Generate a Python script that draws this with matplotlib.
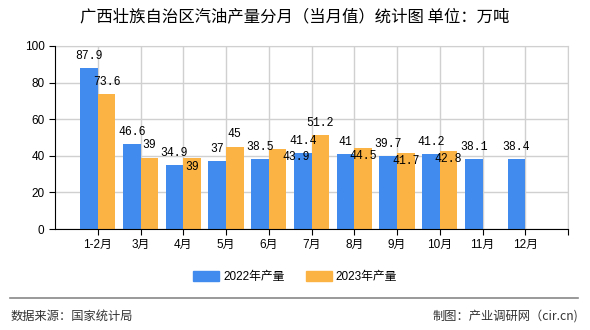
import numpy as np
import matplotlib
matplotlib.use('Agg')
import matplotlib.pyplot as plt
from matplotlib.patches import Patch

plt.rcParams['font.family'] = ['Liberation Sans', 'Noto Sans CJK SC', 'DejaVu Sans']

# data
months = ['1-2月', '3月', '4月', '5月', '6月', '7月', '8月', '9月', '10月', '11月', '12月']
prod_2022 = [87.9, 46.6, 34.9, 37, 38.5, 41.4, 41, 39.7, 41.2, 38.1, 38.4]
prod_2023 = [73.6, 39, 39, 45, 43.9, 51.2, 44.5, 41.7, 42.8]
yticks = [0, 20, 40, 60, 80, 100]

# label nudges (pixels), the 2023 labels got shuffled around in the original
dy_2023 = [12, 13, -9, 13, -8, 12, -8, -8, -8]
dx_2023 = [0, 0, 0, 0, 19, 0, 0, 0, 0]

blue = '#418BEE'
orange = '#FBB343'

fig = plt.figure(figsize=(5.9, 3.3), dpi=100)
ax = fig.add_axes([55/590, 1-229/330, 513/590, 183/330])

x = np.arange(len(months))
w = 0.41
ax.bar(x[:len(prod_2022)], prod_2022, width=-w, align='edge', color=blue, zorder=3)
ax.bar(x[:len(prod_2023)], prod_2023, width=w, align='edge', color=orange, zorder=3)

lab_font = dict(family=['Liberation Mono', 'DejaVu Sans Mono'], fontsize=8.3, color='black')
for i, v in enumerate(prod_2022):
    ax.annotate('%g' % v, (x[i] - w/2, v), xytext=(0, 12), textcoords='offset pixels',
                ha='center', va='center', zorder=5, **lab_font)
for i, v in enumerate(prod_2023):
    ax.annotate('%g' % v, (x[i] + w/2, v), xytext=(dx_2023[i], dy_2023[i]), textcoords='offset pixels',
                ha='center', va='center', zorder=5, **lab_font)

ax.set_xlim(-1, 11)
ax.set_ylim(0, 100)
ax.set_yticks(yticks)
ax.set_xticks(list(x) + [11])
ax.set_xticklabels(months + [''], fontsize=8.5)
ax.tick_params(axis='y', labelsize=8.5, length=4, color='black')
ax.tick_params(axis='x', length=4, color='black')
ax.grid(True, color='#D0D0D0', linewidth=1, zorder=0)
for s in ['top', 'right']:
    ax.spines[s].set_color('#D0D0D0')
for s in ['left', 'bottom']:
    ax.spines[s].set_color('black')
    ax.spines[s].set_zorder(4)

fig.text(0.5, 1-17/330, '广西壮族自治区汽油产量分月（当月值）统计图 单位：万吨',
         ha='center', va='center', fontsize=11.8, family=['Noto Sans CJK SC', 'DejaVu Sans'])

handles = [Patch(color=blue, label='2022年产量'), Patch(color=orange, label='2023年产量')]
fig.legend(handles=handles, loc='center', bbox_to_anchor=(0.5, 1-277/330), ncol=2, frameon=False,
           fontsize=8.5, handlelength=2.2, handleheight=0.9, columnspacing=1.8, handletextpad=0.3)

fig.add_artist(plt.Line2D([10/590, 578/590], [1-298/330, 1-298/330], color='#888888', linewidth=1.2))
fig.text(11/590, 1-316/330, '数据来源：国家统计局', ha='left', va='center', fontsize=8.8, color='#333333',
         family=['Noto Sans CJK SC', 'DejaVu Sans'])
fig.text(578/590, 1-316/330, '制图：产业调研网（cir.cn)', ha='right', va='center', fontsize=8.8, color='#333333',
         family=['Noto Sans CJK SC', 'DejaVu Sans'])

fig.savefig('out.png', dpi=100)
